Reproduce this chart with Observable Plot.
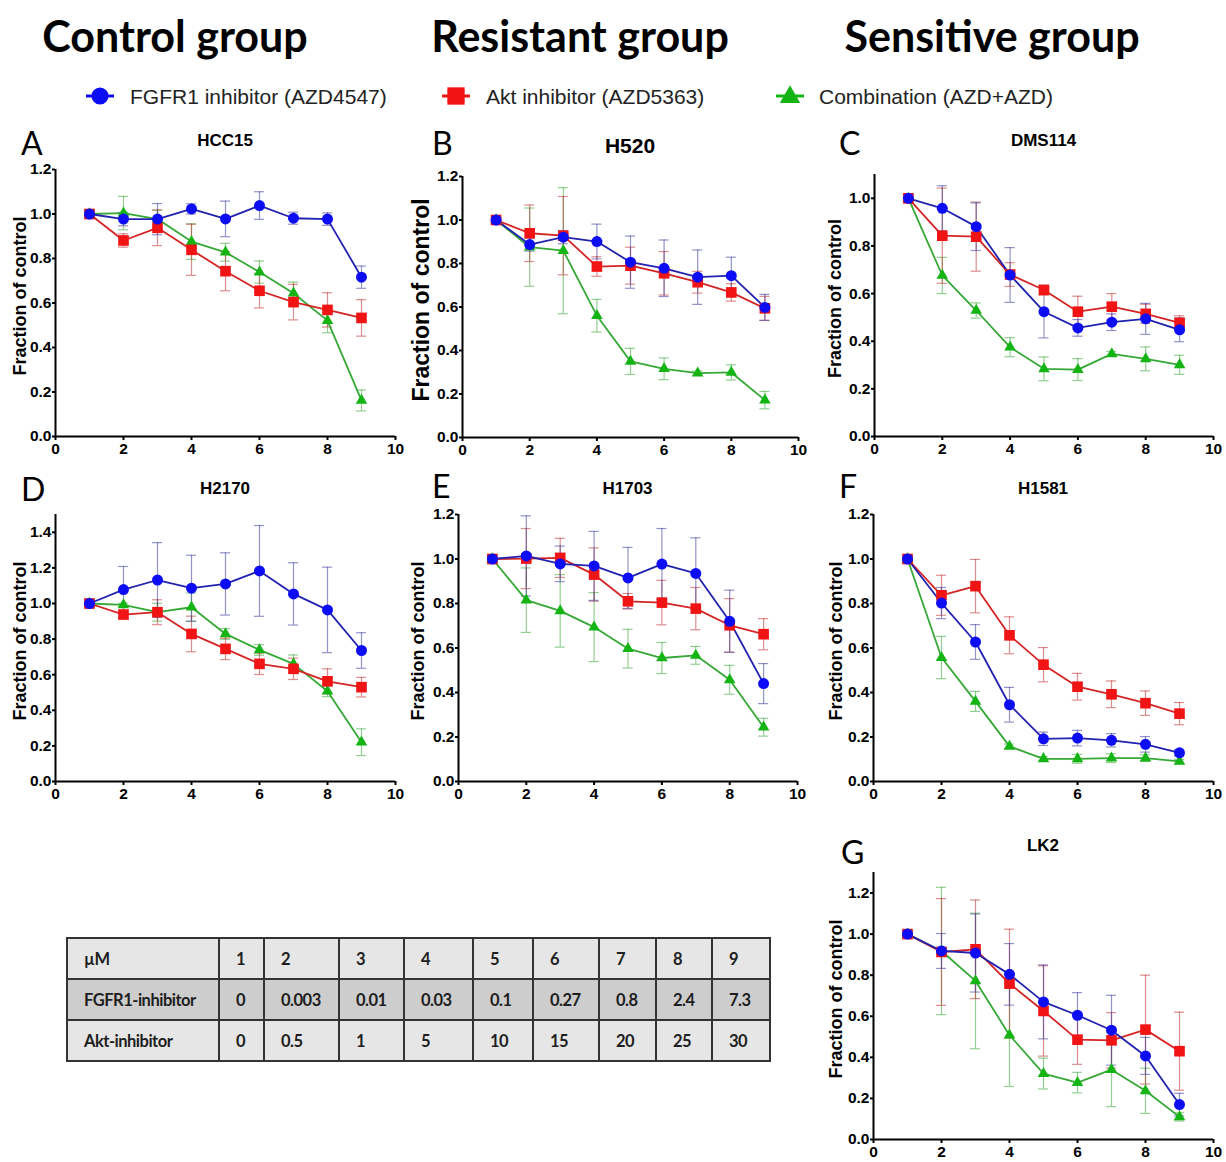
<!DOCTYPE html>
<html><head><meta charset="utf-8">
<script src="https://cdn.jsdelivr.net/npm/d3@7"></script>
<script src="https://cdn.jsdelivr.net/npm/@observablehq/plot@0.6"></script>
<style>
body{margin:0;background:#fff;}
#root{position:relative;width:1226px;height:1162px;overflow:hidden;font-family:"Liberation Sans",Arial,sans-serif;color:#000;}
.abs{position:absolute;white-space:nowrap;line-height:1;}
.group{font-family:Lato,"Open Sans",sans-serif;font-weight:700;font-size:43px;}
.letter{font-family:Lato,"Open Sans",sans-serif;font-weight:400;font-size:32px;line-height:0.75;}
.ptitle{font-family:"Liberation Sans",Arial,sans-serif;font-weight:700;font-size:17px;}
.legtext{font-family:"Liberation Sans",Arial,sans-serif;font-size:21px;color:#222;}
table.dose{position:absolute;left:66px;top:937px;border-collapse:collapse;font-family:Lato,"Open Sans",sans-serif;font-weight:700;font-size:16.5px;letter-spacing:-0.5px;color:#1e1e1e;}
table.dose td{border:2px solid #333;height:37px;padding:0 0 0 16px;box-sizing:border-box;}
</style>
</head><body><div id="root"></div>
<script>
// ---------- data ----------
const doses = [1, 2, 3, 4, 5, 6, 7, 8, 9];
const seriesNames = ["FGFR1 inhibitor (AZD4547)", "Akt inhibitor (AZD5363)", "Combination (AZD+AZD)"];
const groupTitles = ["Control group", "Resistant group", "Sensitive group"];
const xTicks = [0, 2, 4, 6, 8, 10];

// A HCC15
const hcc15_fgfr = [1.00, 0.977, 0.977, 1.023, 0.978, 1.038, 0.981, 0.977, 0.716];
const hcc15_fgfr_sd = [0, 0.03, 0.07, 0.023, 0.08, 0.062, 0.027, 0.028, 0.05];
const hcc15_akt = [1.00, 0.881, 0.938, 0.839, 0.743, 0.655, 0.604, 0.569, 0.533];
const hcc15_akt_sd = [0, 0.03, 0.08, 0.115, 0.088, 0.077, 0.08, 0.077, 0.082];
const hcc15_combo = [1.00, 1.004, 0.977, 0.876, 0.828, 0.739, 0.644, 0.521, 0.162];
const hcc15_combo_sd = [0, 0.075, 0.04, 0.08, 0.04, 0.05, 0.05, 0.055, 0.047];
// B H520
const h520_fgfr = [1.00, 0.887, 0.921, 0.901, 0.806, 0.778, 0.737, 0.744, 0.598];
const h520_fgfr_sd = [0, 0.03, 0.03, 0.08, 0.12, 0.13, 0.125, 0.085, 0.06];
const h520_akt = [1.00, 0.939, 0.928, 0.786, 0.79, 0.755, 0.714, 0.667, 0.594];
const h520_akt_sd = [0, 0.13, 0.18, 0.045, 0.085, 0.1, 0.05, 0.04, 0.055];
const h520_combo = [1.00, 0.875, 0.859, 0.56, 0.35, 0.316, 0.296, 0.299, 0.172];
const h520_combo_sd = [0, 0.18, 0.29, 0.075, 0.06, 0.05, 0.01, 0.035, 0.04];
// C DMS114
const dms114_fgfr = [1.00, 0.958, 0.881, 0.678, 0.524, 0.456, 0.48, 0.494, 0.448];
const dms114_fgfr_sd = [0, 0.095, 0.1, 0.115, 0.11, 0.035, 0.035, 0.065, 0.05];
const dms114_akt = [1.00, 0.843, 0.839, 0.68, 0.615, 0.524, 0.545, 0.515, 0.477];
const dms114_akt_sd = [0, 0.2, 0.145, 0.05, 0.02, 0.065, 0.055, 0.04, 0.03];
const dms114_combo = [1.00, 0.676, 0.529, 0.375, 0.284, 0.281, 0.347, 0.326, 0.301];
const dms114_combo_sd = [0, 0.076, 0.032, 0.04, 0.05, 0.046, 0.01, 0.05, 0.04];
// D H2170
const h2170_fgfr = [1.00, 1.078, 1.132, 1.086, 1.11, 1.183, 1.054, 0.964, 0.736];
const h2170_fgfr_sd = [0, 0.13, 0.21, 0.185, 0.175, 0.255, 0.175, 0.24, 0.1];
const h2170_akt = [1.00, 0.938, 0.951, 0.829, 0.745, 0.661, 0.633, 0.563, 0.53];
const h2170_akt_sd = [0, 0.02, 0.07, 0.1, 0.06, 0.06, 0.06, 0.07, 0.055];
const h2170_combo = [1.00, 0.992, 0.951, 0.979, 0.829, 0.739, 0.661, 0.507, 0.221];
const h2170_combo_sd = [0, 0.01, 0.05, 0.08, 0.03, 0.03, 0.05, 0.03, 0.075];
// E H1703
const h1703_fgfr = [1.00, 1.014, 0.978, 0.969, 0.915, 0.977, 0.935, 0.72, 0.44];
const h1703_fgfr_sd = [0, 0.18, 0.08, 0.155, 0.137, 0.16, 0.16, 0.14, 0.09];
const h1703_akt = [1.00, 1.002, 1.005, 0.93, 0.81, 0.804, 0.777, 0.702, 0.662];
const h1703_akt_sd = [0, 0.135, 0.088, 0.12, 0.035, 0.1, 0.095, 0.12, 0.07];
const h1703_combo = [1.00, 0.815, 0.767, 0.694, 0.597, 0.555, 0.567, 0.457, 0.244];
const h1703_combo_sd = [0, 0.145, 0.163, 0.155, 0.087, 0.07, 0.04, 0.065, 0.04];
// F H1581
const h1581_fgfr = [1.00, 0.802, 0.627, 0.345, 0.192, 0.195, 0.185, 0.167, 0.129];
const h1581_fgfr_sd = [0, 0.07, 0.078, 0.078, 0.03, 0.035, 0.03, 0.035, 0.015];
const h1581_akt = [1.00, 0.837, 0.878, 0.657, 0.525, 0.426, 0.392, 0.352, 0.305];
const h1581_akt_sd = [0, 0.09, 0.12, 0.083, 0.077, 0.06, 0.06, 0.055, 0.05];
const h1581_combo = [1.00, 0.557, 0.36, 0.158, 0.102, 0.102, 0.105, 0.105, 0.09];
const h1581_combo_sd = [0, 0.095, 0.045, 0.01, 0.01, 0.02, 0.02, 0.015, 0.01];
// G LK2
const lk2_fgfr = [1.00, 0.918, 0.908, 0.804, 0.67, 0.605, 0.532, 0.407, 0.17];
const lk2_fgfr_sd = [0, 0.085, 0.19, 0.15, 0.18, 0.11, 0.17, 0.09, 0.055];
const lk2_akt = [1.00, 0.913, 0.926, 0.759, 0.626, 0.486, 0.483, 0.535, 0.43];
const lk2_akt_sd = [0, 0.26, 0.24, 0.265, 0.22, 0.12, 0.135, 0.265, 0.19];
const lk2_combo = [1.00, 0.918, 0.772, 0.508, 0.321, 0.277, 0.34, 0.237, 0.11];
const lk2_combo_sd = [0, 0.31, 0.33, 0.25, 0.075, 0.05, 0.18, 0.11, 0.02];

// dose table
const tableHeader = ["µM", "1", "2", "3", "4", "5", "6", "7", "8", "9"];
const tableFgfr = ["FGFR1-inhibitor", "0", "0.003", "0.01", "0.03", "0.1", "0.27", "0.8", "2.4", "7.3"];
const tableAkt = ["Akt-inhibitor", "0", "0.5", "1", "5", "10", "15", "20", "25", "30"];

// ---------- styles ----------
const C = {
  fgfr: {line: "#2222b0", dot: "#0c0cf5", err: "#3a3aa0", symbol: "circle", r: 5.5},
  akt: {line: "#d42424", dot: "#f01414", err: "#c03030", symbol: "square", r: 6},
  combo: {line: "#35a835", dot: "#15b415", err: "#3aa83a", symbol: "triangle", r: 4.3}
};

const root = document.getElementById("root");
function addText(txt, cls, x, y, anchor) {
  const d = document.createElement("div");
  d.className = "abs " + cls;
  d.textContent = txt;
  d.style.left = x + "px";
  d.style.top = y + "px";
  d.style.transform = anchor === "center" ? "translate(-50%,-50%)" : "translate(0,-50%)";
  root.appendChild(d);
  return d;
}

// group headings
addText(groupTitles[0], "group", 175, 35, "center");
addText(groupTitles[1], "group", 580, 35, "center");
addText(groupTitles[2], "group", 992, 35, "center");

// legend
function legendItem(key, mx, tx, label) {
  const s = C[key];
  const ns = "http://www.w3.org/2000/svg";
  const svg = document.createElementNS(ns, "svg");
  svg.setAttribute("width", 32); svg.setAttribute("height", 24);
  svg.style.position = "absolute"; svg.style.left = (mx - 16) + "px"; svg.style.top = (96 - 12) + "px";
  const ln = document.createElementNS(ns, "line");
  ln.setAttribute("x1", 2); ln.setAttribute("x2", 30); ln.setAttribute("y1", 12); ln.setAttribute("y2", 12);
  ln.setAttribute("stroke", s.dot); ln.setAttribute("stroke-width", 3);
  svg.appendChild(ln);
  const p = document.createElementNS(ns, "path");
  const sym = {circle: d3.symbolCircle, square: d3.symbolSquare, triangle: d3.symbolTriangle}[s.symbol];
  const size = {circle: 230, square: 300, triangle: 180}[s.symbol];
  p.setAttribute("d", d3.symbol(sym, size)());
  p.setAttribute("transform", "translate(16," + (s.symbol === "triangle" ? 13 : 12) + ")");
  p.setAttribute("fill", s.dot);
  svg.appendChild(p);
  root.appendChild(svg);
  addText(label, "legtext", tx, 96, "left");
}
legendItem("fgfr", 100, 130, seriesNames[0]);
legendItem("akt", 456, 486, seriesNames[1]);
legendItem("combo", 790, 819, seriesNames[2]);

// panels
function panel(cfg) {
  const mL = 58, mR = 16, mT = 8, mB = 30;
  const pw = cfg.x1 - cfg.x0, ph = cfg.yBot - cfg.yTop;
  const mk = (v, e) => doses.map((d, i) => ({x: d, y: v[i], e: e[i]}));
  const S = [["combo", mk(cfg.combo, cfg.comboSd)], ["akt", mk(cfg.akt, cfg.aktSd)], ["fgfr", mk(cfg.fgfr, cfg.fgfrSd)]];
  const marks = [];
  for (const [k, data] of S) {
    const s = C[k], eb = data.filter(d => d.e > 0);
    const eo = {stroke: s.err, strokeWidth: 1.2, strokeOpacity: 0.55};
    marks.push(Plot.ruleX(eb, {x: "x", y1: d => d.y - d.e, y2: d => d.y + d.e, ...eo}));
    marks.push(Plot.ruleY(eb, {y: d => d.y + d.e, x1: d => d.x - 0.15, x2: d => d.x + 0.15, ...eo}));
    marks.push(Plot.ruleY(eb, {y: d => d.y - d.e, x1: d => d.x - 0.15, x2: d => d.x + 0.15, ...eo}));
  }
  for (const [k, data] of S) {
    const s = C[k];
    marks.push(Plot.line(data, {x: "x", y: "y", stroke: s.line, strokeWidth: 1.8}));
  }
  for (const [k, data] of S) {
    const s = C[k];
    marks.push(Plot.dot(data, {x: "x", y: "y", symbol: () => s.symbol, r: s.r, fill: s.dot, stroke: "none"}));
  }
  const yt = d3.range(0, cfg.ymax + 1e-9, 0.2).map(v => +v.toFixed(1));
  marks.push(Plot.ruleY([0], {stroke: "#000", strokeWidth: 2}));
  marks.push(Plot.ruleX([0], {stroke: "#000", strokeWidth: 2}));
  marks.push(Plot.axisX({ticks: xTicks, tickSize: 4, tickPadding: 2, strokeWidth: 2, tickFormat: d => d, label: null}));
  marks.push(Plot.axisY({ticks: yt, tickSize: 3, tickPadding: 1, strokeWidth: 2, tickFormat: d3.format(".1f"), label: null}));
  marks.push(Plot.text(["Fraction of control"], {frameAnchor: "left", textAnchor: "middle", lineAnchor: "middle", rotate: -90, dx: -cfg.labelDx, dy: -7, fontSize: cfg.labelSize, fontWeight: "bold", fill: "#000"}));
  const chart = Plot.plot({
    width: pw + mL + mR, height: ph + mT + mB,
    marginLeft: mL, marginRight: mR, marginTop: mT, marginBottom: mB,
    x: {domain: [0, 10]}, y: {domain: [0, cfg.ymax]},
    symbol: {type: "identity"},
    style: {fontFamily: "'Liberation Sans', Arial, sans-serif", fontSize: "15.5px", fontWeight: "bold", color: "#000", background: "transparent", overflow: "visible"},
    marks
  });
  chart.style.position = "absolute";
  chart.style.left = (cfg.x0 - mL) + "px";
  chart.style.top = (cfg.yTop - mT) + "px";
  root.appendChild(chart);
  addText(cfg.letter, "letter", cfg.lx, cfg.ly, "left");
  const t = addText(cfg.title, "ptitle", (cfg.x0 + cfg.x1) / 2, cfg.ty, "center");
  if (cfg.titleSize) t.style.fontSize = cfg.titleSize + "px";
}

panel({letter: "A", lx: 21, ly: 143, title: "HCC15", ty: 140, x0: 55, x1: 395, yBot: 436, yTop: 169, ymax: 1.2, labelDx: 35, labelSize: 18,
  fgfr: hcc15_fgfr, fgfrSd: hcc15_fgfr_sd, akt: hcc15_akt, aktSd: hcc15_akt_sd, combo: hcc15_combo, comboSd: hcc15_combo_sd});
panel({letter: "B", lx: 432, ly: 143, title: "H520", ty: 145, titleSize: 21, x0: 462, x1: 798, yBot: 437, yTop: 176, ymax: 1.2, labelDx: 41, labelSize: 23,
  fgfr: h520_fgfr, fgfrSd: h520_fgfr_sd, akt: h520_akt, aktSd: h520_akt_sd, combo: h520_combo, comboSd: h520_combo_sd});
panel({letter: "C", lx: 839, ly: 143, title: "DMS114", ty: 140, x0: 874, x1: 1213, yBot: 436, yTop: 174, ymax: 1.1, labelDx: 39, labelSize: 18,
  fgfr: dms114_fgfr, fgfrSd: dms114_fgfr_sd, akt: dms114_akt, aktSd: dms114_akt_sd, combo: dms114_combo, comboSd: dms114_combo_sd});
panel({letter: "D", lx: 21, ly: 489, title: "H2170", ty: 488, x0: 55, x1: 395, yBot: 781, yTop: 514, ymax: 1.5, labelDx: 35, labelSize: 18,
  fgfr: h2170_fgfr, fgfrSd: h2170_fgfr_sd, akt: h2170_akt, aktSd: h2170_akt_sd, combo: h2170_combo, comboSd: h2170_combo_sd});
panel({letter: "E", lx: 432, ly: 486, title: "H1703", ty: 488, x0: 458, x1: 797, yBot: 781, yTop: 514, ymax: 1.2, labelDx: 40, labelSize: 18,
  fgfr: h1703_fgfr, fgfrSd: h1703_fgfr_sd, akt: h1703_akt, aktSd: h1703_akt_sd, combo: h1703_combo, comboSd: h1703_combo_sd});
panel({letter: "F", lx: 839, ly: 486, title: "H1581", ty: 488, x0: 873, x1: 1213, yBot: 781, yTop: 514, ymax: 1.2, labelDx: 37, labelSize: 18,
  fgfr: h1581_fgfr, fgfrSd: h1581_fgfr_sd, akt: h1581_akt, aktSd: h1581_akt_sd, combo: h1581_combo, comboSd: h1581_combo_sd});
panel({letter: "G", lx: 841, ly: 852, title: "LK2", ty: 845, x0: 873, x1: 1213, yBot: 1139, yTop: 872, ymax: 1.3, labelDx: 37, labelSize: 18,
  fgfr: lk2_fgfr, fgfrSd: lk2_fgfr_sd, akt: lk2_akt, aktSd: lk2_akt_sd, combo: lk2_combo, comboSd: lk2_combo_sd});

// dose table
const colW = [152, 45, 75, 65, 69, 60, 66, 57, 56, 58];
const rowBg = ["#e6e6e6", "#cdcdcd", "#e6e6e6"];
const tbl = document.createElement("table");
tbl.className = "dose";
[tableHeader, tableFgfr, tableAkt].forEach((row, ri) => {
  const tr = document.createElement("tr");
  row.forEach((v, ci) => {
    const td = document.createElement("td");
    td.textContent = v;
    td.style.width = colW[ci] + "px";
    td.style.height = "41px";
    td.style.background = rowBg[ri];
    tr.appendChild(td);
  });
  tbl.appendChild(tr);
});
root.appendChild(tbl);
</script>
</body></html>
